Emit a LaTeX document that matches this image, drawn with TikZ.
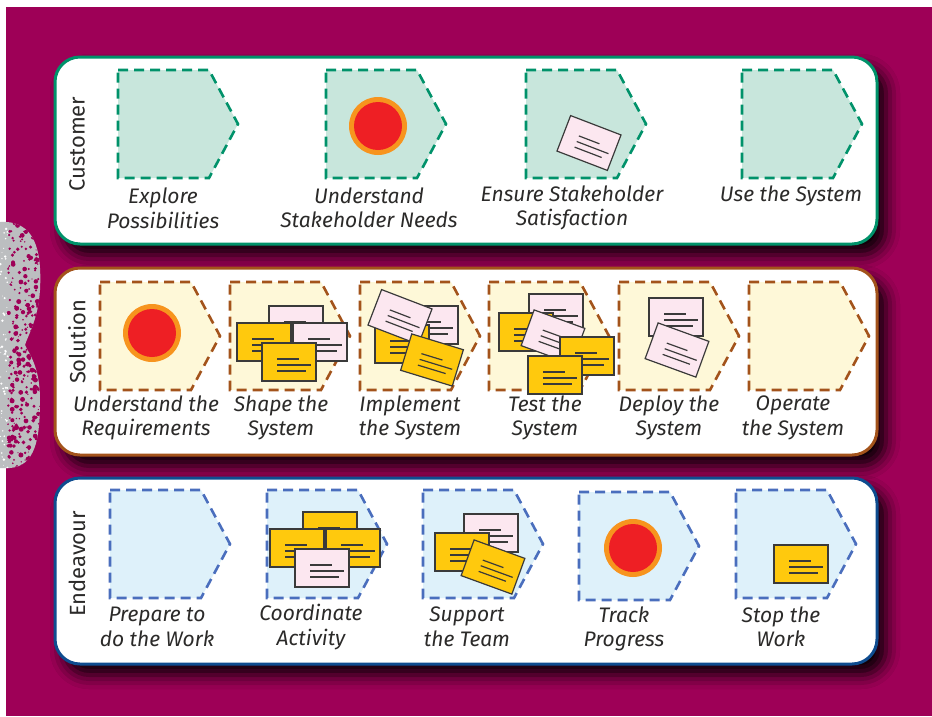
\documentclass[tikz,border=0pt]{standalone}
\usepackage{fontspec}
\setmainfont{Fira Sans}
\usetikzlibrary{shadows.blur}

\definecolor{plum}{HTML}{9E0057}
\definecolor{ink}{HTML}{2B2A29}
\definecolor{custline}{HTML}{00926A}
\definecolor{custfill}{HTML}{C8E6DC}
\definecolor{solline}{HTML}{A3531B}
\definecolor{solfill}{HTML}{FEF8D8}
\definecolor{endline}{HTML}{4A6EBD}
\definecolor{endfill}{HTML}{DEF1FA}
\definecolor{endborder}{HTML}{0E4C8F}
\definecolor{cardpink}{HTML}{FCE7F0}
\definecolor{cardyellow}{HTML}{FFC90D}
\definecolor{cardline}{HTML}{3A3A3A}
\definecolor{targetred}{HTML}{EE1F24}
\definecolor{targetring}{HTML}{F7941E}
\definecolor{blobgrey}{HTML}{BCBEC0}

\tikzset{
  panel/.style={draw=#1, line width=3pt, fill=white, rounded corners=25pt,
    blur shadow={shadow xshift=9pt, shadow yshift=-11pt, shadow blur radius=14pt, shadow opacity=95}},
  space/.style 2 args={fill=#1, draw=#2, line width=2.6pt, dash pattern=on 10pt off 6pt},
  lbl/.style={font=\fontsize{21}{24.5}\selectfont\itshape, text=ink, align=center, inner sep=0pt},
  area/.style={font=\fontsize{22}{24}\selectfont, text=ink, rotate=90, inner sep=0pt}
}

% alpha state shape: x of left edge, top edge, style
\newcommand\statebox[3]{\draw[#3] (#1,#2) -- ++(91,0) -- ++(29,54) -- ++(-29,54) -- ++(-91,0) -- cycle;}
% work product card: centre x, centre y, angle, colour
\newcommand\workcard[4]{%
  \begin{scope}[shift={(#1,#2)}, rotate=#3, draw=cardline, line width=1.2pt]
    \draw[fill=#4] (-27,-19) rectangle (27,19);
    \draw (-12,-3) -- (10,-3) (-12,3) -- (22,3) (-12,9) -- (17,9);
  \end{scope}}
% activity target
\newcommand\target[2]{\fill[targetring] (#1,#2) circle (29); \fill[targetred] (#1,#2) circle (24);}

\begin{document}
\begin{tikzpicture}[x=1pt, y=-1pt]
\useasboundingbox (0,0) rectangle (932,716);
\fill[white] (0,0) rectangle (932,716);
\fill[plum] (6,7) rectangle (932,716);

% grey blob at the left edge
\begin{scope}
\path[clip] (0,222) .. controls (35,220) and (42,250) .. (40,290)
  .. controls (38,320) and (28,335) .. (25,345)
  .. controls (30,355) and (40,368) .. (40,400)
  .. controls (40,440) and (35,466) .. (10,468) -- (0,468) -- cycle;
\fill[blobgrey] (0,215) rectangle (45,470);
\pgfmathsetseed{7}
\foreach \i in {1,...,320}
  \fill[plum] ({8+rnd*34},{222+rnd*246}) circle ({0.5+rnd*2});
\foreach \i in {1,...,60}
  \fill[white] ({rnd*8},{222+rnd*246}) circle ({0.4+rnd*1});
\end{scope}

% the three areas of concern
\path[panel=custline] (55,57) rectangle (877,244);
\path[panel=solline] (55,268) rectangle (877,455);
\path[panel=endborder] (55,478) rectangle (877,664);

\node[area] (cust) at (77,144) {Customer};
\node[area] (sol) at (77,342) {Solution};
\node[area] (endv) at (77,564) {Endeavour};

% customer
\statebox{118}{70}{space={custfill}{custline}}
\statebox{326}{70}{space={custfill}{custline}}
\statebox{526}{70}{space={custfill}{custline}}
\statebox{742}{70}{space={custfill}{custline}}
\target{378}{126}
\workcard{589}{143}{-21}{cardpink}
\node[lbl] (c1) at (163,208) {Explore\\Possibilities};
\node[lbl] (c2) at (369,208) {Understand\\Stakeholder Needs};
\node[lbl] (c3) at (572,208) {Ensure Stakeholder\\Satisfaction};
\node[lbl] (c4) at (791,196) {Use the System};

% solution
\statebox{100}{282}{space={solfill}{solline}}
\statebox{230}{282}{space={solfill}{solline}}
\statebox{360}{282}{space={solfill}{solline}}
\statebox{489}{282}{space={solfill}{solline}}
\statebox{619}{282}{space={solfill}{solline}}
\statebox{749}{282}{space={solfill}{solline}}
\target{152}{333}
% shape the system
\workcard{296}{325}{0}{cardpink}
\workcard{264}{342}{0}{cardyellow}
\workcard{320}{342}{0}{cardpink}
\workcard{289}{362}{0}{cardyellow}
% implement the system
\workcard{431}{325}{0}{cardpink}
\workcard{402}{344}{0}{cardyellow}
\workcard{400}{317}{-21}{cardpink}
\workcard{432}{360}{-17}{cardyellow}
% test the system
\workcard{556}{313}{0}{cardpink}
\workcard{526}{332}{0}{cardyellow}
\workcard{553}{337}{-20}{cardpink}
\workcard{587}{356}{0}{cardyellow}
\workcard{555}{375}{0}{cardyellow}
% deploy the system
\workcard{676}{317}{0}{cardpink}
\workcard{677}{350}{-20}{cardpink}
\node[lbl] (s1) at (146,418) {Understand the\\Requirements};
\node[lbl] (s2) at (281,418) {Shape the\\System};
\node[lbl] (s3) at (410,418) {Implement\\the System};
\node[lbl] (s4) at (545,418) {Test the\\System};
\node[lbl] (s5) at (669,418) {Deploy the\\System};
\node[lbl] (s6) at (793,418) {Operate\\the System};

% endeavour
\statebox{110}{490}{space={endfill}{endline}}
\statebox{267}{490}{space={endfill}{endline}}
\statebox{423}{490}{space={endfill}{endline}}
\statebox{579}{492}{space={endfill}{endline}}
\statebox{736}{490}{space={endfill}{endline}}
% coordinate activity
\workcard{330}{531}{0}{cardyellow}
\workcard{297}{548}{0}{cardyellow}
\workcard{353}{548}{0}{cardyellow}
\workcard{322}{568}{0}{cardpink}
% support the team
\workcard{491}{533}{0}{cardpink}
\workcard{462}{552}{0}{cardyellow}
\workcard{493}{567}{-20}{cardyellow}
\target{633}{548}
\workcard{801}{564}{0}{cardyellow}
\node[lbl] (e1) at (157,627) {Prepare to\\do the Work};
\node[lbl] (e2) at (311,627) {Coordinate\\Activity};
\node[lbl] (e3) at (467,627) {Support\\the Team};
\node[lbl] (e4) at (624,629) {Track\\Progress};
\node[lbl] (e5) at (781,627) {Stop the\\Work};
\end{tikzpicture}
\end{document}
